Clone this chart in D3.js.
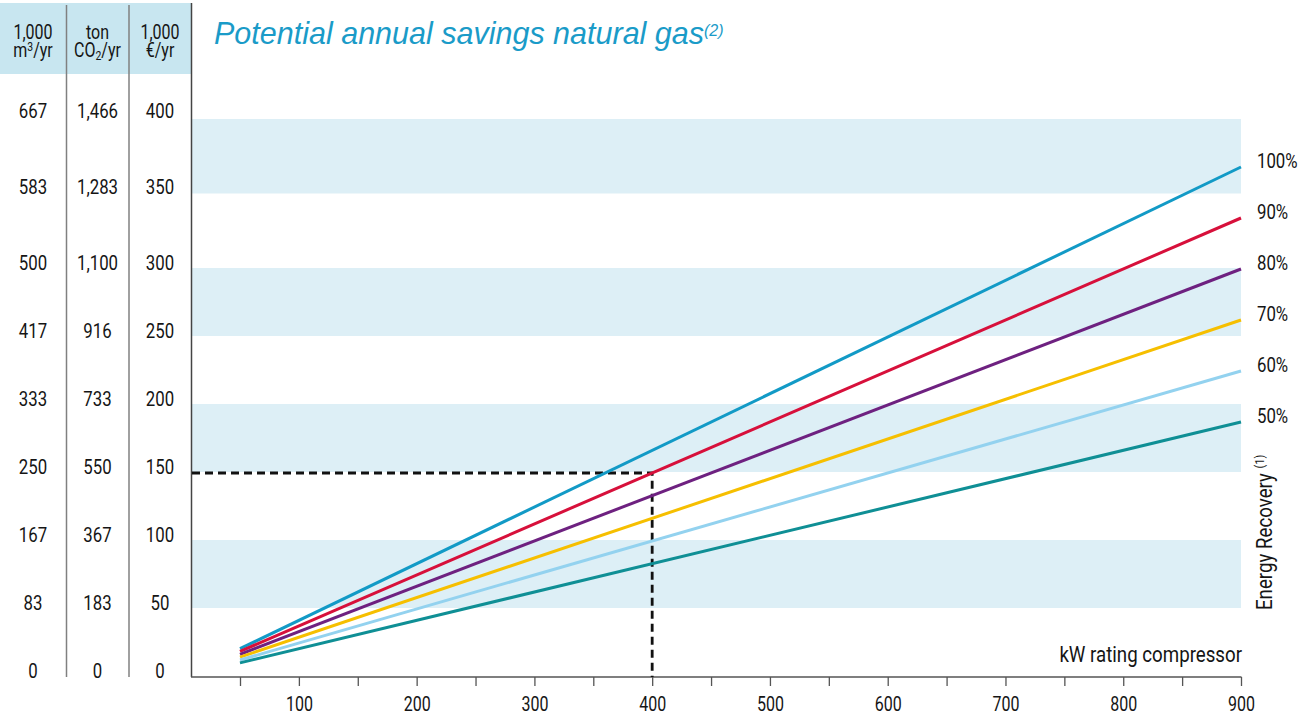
<!DOCTYPE html>
<html>
<head>
<meta charset="utf-8">
<script src="https://cdn.jsdelivr.net/npm/d3@7"></script>
<style>
  body { margin: 0; background: #fff; }
  svg text { font-family: Roboto, "Liberation Sans", sans-serif; }
</style>
</head>
<body>
<div id="chart"></div>
<script>
// kW rating of the compressor (x) and the read-off savings in 1,000 €/yr (y)
const kW = [50, 900];
const recovery = ["100%", "90%", "80%", "70%", "60%", "50%"];
const savings = [
  [20.8, 375],
  [18.8, 337.5],
  [16.7, 300],
  [14.6, 262.5],
  [12.5, 225],
  [10.4, 187.5]
];
const lineColors = ["#129ac6", "#d7103b", "#6e2180", "#f6bf00", "#93d2ef", "#0f8f95"];

// tick labels
const kwTicks = [50, 100, 150, 200, 250, 300, 350, 400, 450, 500, 550, 600, 650, 700, 750, 800, 850, 900];
const euroTicks = [0, 50, 100, 150, 200, 250, 300, 350, 400];
const gasTicks = ["0", "83", "167", "250", "333", "417", "500", "583", "667"];
const co2Ticks = ["0", "183", "367", "550", "733", "916", "1,100", "1,283", "1,466"];
const bands = [[50, 100], [150, 200], [250, 300], [350, 400]];

// example reading: 400 kW at 90% -> 150
const example = {kw: 400, value: 150};

const W = 1310, H = 715;
const ink = "#151515";
const NUM = 0.8;   // horizontal squeeze to mimic the condensed face
const WORD = 0.85;

const svg = d3.select("#chart").append("svg")
  .attr("width", W)
  .attr("height", H);

// scales
const x = d3.scaleLinear().domain([50, 900]).range([240, 1241]);
const y = d3.scaleLinear().domain([0, 400]).range([677, 133]);
// the printed table labels and bands sit on a stretched grid at the top
const labelY = d3.scaleLinear().domain([0, 300, 400]).range([670.7, 262.7, 110.7]);
const bandY = d3.scaleLinear().domain([0, 300, 400]).range([676, 268, 119]);

// header band of the table
svg.append("rect")
  .attr("x", 0).attr("y", 3)
  .attr("width", 192).attr("height", 71)
  .attr("fill", "#c8e6f0");

// light blue bands in the plot
svg.append("g")
  .selectAll("rect")
  .data(bands)
  .join("rect")
  .attr("x", 192)
  .attr("width", 1241 - 192)
  .attr("y", d => bandY(d[1]))
  .attr("height", d => bandY(d[0]) - bandY(d[1]))
  .attr("fill", "#ddeff6");

// table column separators
svg.append("g")
  .selectAll("line")
  .data([66.5, 129])
  .join("line")
  .attr("x1", d => d).attr("x2", d => d)
  .attr("y1", 5).attr("y2", 677)
  .attr("stroke", "#808080")
  .attr("stroke-width", 1.5);

// vertical axis line
svg.append("line")
  .attr("x1", 191.5).attr("x2", 191.5)
  .attr("y1", 3).attr("y2", 677)
  .attr("stroke", "#444")
  .attr("stroke-width", 1.5);

// header texts
const headers = [
  {cx: 33, l1: "1,000", l2: [["m", 0], ["3", 1], ["/yr", 0]]},
  {cx: 97.5, l1: "ton", l2: [["CO", 0], ["2", -1], ["/yr", 0]]},
  {cx: 160, l1: "1,000", l2: [["€/yr", 0]]}
];
headers.forEach(h => {
  svg.append("text")
    .attr("transform", `translate(${h.cx},38.5) scale(${NUM},1)`)
    .attr("text-anchor", "middle")
    .style("font-size", "20px")
    .style("fill", ink)
    .text(h.l1);
  const t = svg.append("text")
    .attr("transform", `translate(${h.cx},57) scale(${NUM},1)`)
    .attr("text-anchor", "middle")
    .style("font-size", "20px")
    .style("fill", ink);
  h.l2.forEach(p => {
    t.append("tspan")
      .attr("baseline-shift", p[1] === 1 ? "45%" : p[1] === -1 ? "-25%" : null)
      .style("font-size", p[1] === 0 ? "20px" : "13px")
      .text(p[0]);
  });
});

// table values
const columns = [
  {cx: 33, labels: gasTicks},
  {cx: 97.5, labels: co2Ticks},
  {cx: 160, labels: euroTicks.map(String)}
];
columns.forEach(c => {
  svg.append("g")
    .selectAll("text")
    .data(euroTicks)
    .join("text")
    .attr("transform", d => `translate(${c.cx},${labelY(d)}) scale(${NUM},1)`)
    .attr("dy", "0.36em")
    .attr("text-anchor", "middle")
    .style("font-size", "21px")
    .style("fill", ink)
    .text((d, i) => c.labels[i]);
});

// x axis
const xAxis = svg.append("g")
  .attr("transform", "translate(0,677)")
  .call(d3.axisBottom(x)
    .tickValues(kwTicks)
    .tickSize(9)
    .tickPadding(11)
    .tickFormat(d => d % 100 === 0 ? d : ""));
xAxis.select(".domain").remove();
xAxis.selectAll(".tick line").attr("stroke", "#555").attr("stroke-width", 1.3);
xAxis.selectAll(".tick text")
  .attr("transform", `scale(${NUM},1)`)
  .style("font-size", "20px")
  .style("font-family", "Roboto, sans-serif")
  .style("fill", ink);
svg.append("line")
  .attr("x1", 191).attr("x2", 1241.5)
  .attr("y1", 677).attr("y2", 677)
  .attr("stroke", "#555")
  .attr("stroke-width", 1.5);

// dashed reading lines
svg.append("path")
  .attr("d", `M192,${y(example.value)}H${x(example.kw)}V677`)
  .attr("fill", "none")
  .attr("stroke", "#111")
  .attr("stroke-width", 2.8)
  .attr("stroke-dasharray", "8,5");

// recovery lines
const line = d3.line()
  .x((d, i) => x(kW[i]))
  .y(d => y(d));
svg.append("g")
  .selectAll("path")
  .data(savings)
  .join("path")
  .attr("d", d => line(d))
  .attr("fill", "none")
  .attr("stroke", (d, i) => lineColors[i])
  .attr("stroke-width", 3);

// recovery labels
svg.append("g")
  .selectAll("text")
  .data(savings)
  .join("text")
  .attr("transform", d => `translate(1257,${y(d[d.length - 1]) - 7}) scale(${NUM},1)`)
  .attr("dy", "0.36em")
  .style("font-size", "21px")
  .style("fill", ink)
  .text((d, i) => recovery[i]);

// energy recovery caption
const er = svg.append("text")
  .attr("transform", `translate(1272,610) rotate(-90) scale(${WORD},1)`)
  .style("font-size", "22px")
  .style("fill", ink);
er.append("tspan").text("Energy Recovery ");
er.append("tspan")
  .attr("baseline-shift", "55%")
  .style("font-size", "13px")
  .text("(1)");

// x-axis caption
svg.append("text")
  .attr("transform", `translate(1242,662) scale(${WORD},1)`)
  .attr("text-anchor", "end")
  .style("font-size", "22px")
  .style("fill", ink)
  .text("kW rating compressor");

// title
const title = svg.append("text")
  .attr("x", 214).attr("y", 44)
  .style("font-family", "'Liberation Sans', Arial, sans-serif")
  .style("font-style", "italic")
  .style("font-size", "30.5px")
  .style("fill", "#1a9bc8");
title.append("tspan").text("Potential annual savings natural gas");
title.append("tspan")
  .attr("baseline-shift", "50%")
  .style("font-size", "16px")
  .text("(2)");
</script>
</body>
</html>
